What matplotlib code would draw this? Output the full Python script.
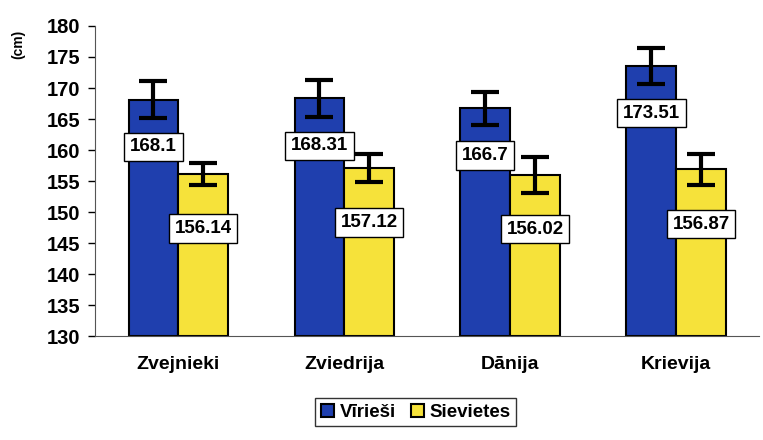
import matplotlib.pyplot as plt
import numpy as np

plt.rcParams['font.family'] = ['Liberation Sans', 'DejaVu Sans']
plt.rcParams['font.weight'] = 'bold'

# data
places = ["Zvejnieki", "Zviedrija", "Dānija", "Krievija"]
men = [168.1, 168.31, 166.7, 173.51]
women = [156.14, 157.12, 156.02, 156.87]
men_err = [3.0, 3.0, 2.7, 2.9]
women_err = [1.8, 2.3, 2.9, 2.5]

blue = "#1f3fae"
yellow = "#f6e23a"

fig = plt.figure(figsize=(7.63, 4.40), dpi=100)
ax = fig.add_axes([0.125, 0.236, 0.87, 0.705])

x = np.arange(len(places))
w = 0.3
ax.bar(x - w / 2, np.array(men) - 130, w, bottom=130, color=blue,
       edgecolor="black", linewidth=1.5, label="Vīrieši", zorder=2)
ax.bar(x + w / 2, np.array(women) - 130, w, bottom=130, color=yellow,
       edgecolor="black", linewidth=1.5, label="Sievietes", zorder=2)
ax.errorbar(x - w / 2, men, yerr=men_err, fmt="none", ecolor="black",
            elinewidth=3, capsize=10, capthick=3, zorder=3)
ax.errorbar(x + w / 2, women, yerr=women_err, fmt="none", ecolor="black",
            elinewidth=3, capsize=10, capthick=3, zorder=3)

box = dict(boxstyle="square,pad=0.3", facecolor="white", edgecolor="black", linewidth=1)
for i in range(len(places)):
    ax.text(x[i] - w / 2, men[i] - 7.6, f"{men[i]:g}", ha="center", va="center",
            fontsize=13.5, fontweight="bold", bbox=box, zorder=4)
    ax.text(x[i] + w / 2, women[i] - 8.8, f"{women[i]:g}", ha="center", va="center",
            fontsize=13.5, fontweight="bold", bbox=box, zorder=4)

ax.set_xlim(-0.5, 3.5)
ax.set_ylim(130, 180)
ax.set_yticks(np.arange(130, 181, 5))
ax.set_xticks(x)
ax.set_xticklabels(places, fontsize=14, fontweight="bold")
ax.tick_params(axis="x", length=0, pad=14)
ax.tick_params(axis="y", labelsize=14.5, length=5, width=1, pad=6)
for lab in ax.get_yticklabels():
    lab.set_fontweight("bold")
ax.spines["top"].set_visible(False)
ax.spines["right"].set_visible(False)
ax.spines["left"].set_color("#555555")
ax.spines["bottom"].set_color("#555555")

fig.text(0.024, 0.90, "(cm)", rotation=90, ha="center", va="center",
         fontsize=10, fontweight="bold")

leg = fig.legend(loc="center", bbox_to_anchor=(0.545, 0.063), ncol=2,
                 fontsize=13.5, frameon=True, fancybox=False, edgecolor="black",
                 handlelength=0.7, handleheight=0.7, handletextpad=0.3,
                 columnspacing=0.8, borderpad=0.3)
leg.get_frame().set_linewidth(1)
for t in leg.get_texts():
    t.set_fontweight("bold")

fig.savefig("out.png", dpi=100)
